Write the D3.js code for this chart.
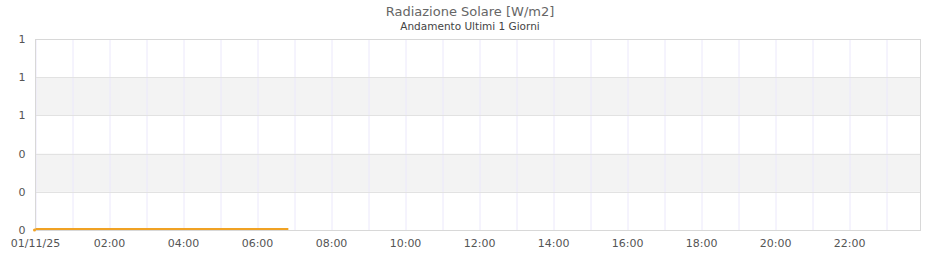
<!DOCTYPE html>
<html>
<head>
<meta charset="utf-8">
<script src="https://cdn.jsdelivr.net/npm/d3@7"></script>
<style>
  body { margin: 0; background: #fff; font-family: "DejaVu Sans", sans-serif; }
</style>
</head>
<body>
<div id="chart"></div>
<script>
// data
const title = "Radiazione Solare [W/m2]";
const subtitle = "Andamento Ultimi 1 Giorni";
const day = "2025-11-01";
const domainEnd = "23:55";
const times = ["00:00", "00:30", "01:00", "01:30", "02:00", "02:30", "03:00", "03:30",
  "04:00", "04:30", "05:00", "05:30", "06:00", "06:30", "06:50"];
const values = [0, 0, 0, 0, 0, 0, 0, 0, 0, 0, 0, 0, 0, 0, 0];
const yTicks = [0, 0.2, 0.4, 0.6, 0.8, 1];

const parse = d3.timeParse("%Y-%m-%d %H:%M");
const data = times.map((t, i) => ({ x: parse(day + " " + t), y: values[i] }));

var margin = { top: 39, right: 20, bottom: 30, left: 35.5 };

const svg = d3.select("#chart").append("svg")
  .attr("width", 940).attr("height", 260);

svg.append("text").attr("x", 470).attr("y", 15.5).attr("text-anchor", "middle")
  .attr("font-size", 13).attr("fill", "#666").text(title);
svg.append("text").attr("x", 470).attr("y", 30).attr("text-anchor", "middle")
  .attr("font-size", 10.5).attr("fill", "#444").text(subtitle);

const g = svg.append("g").attr("transform", "translate(" + margin.left + "," + margin.top + ")");

var x = d3.scaleTime()
  .domain([parse(day + " 00:00"), parse(day + " " + domainEnd)])
  .range([0, 885]);
var y = d3.scaleLinear().domain([0, 1]).range([191, 0]);

// alternating bands
for (let i = 0; i < yTicks.length - 1; i++) {
  if (i % 2 === 1) {
    g.append("rect")
      .attr("x", 0).attr("width", x.range()[1])
      .attr("y", y(yTicks[i + 1])).attr("height", y(yTicks[i]) - y(yTicks[i + 1]))
      .attr("fill", "#f3f3f3");
  }
}

// hourly vertical grid
g.selectAll(".vgrid").data(x.ticks(d3.timeHour.every(1)))
  .enter().append("line")
  .attr("x1", d => Math.round(x(d)) + 0.5).attr("x2", d => Math.round(x(d)) + 0.5)
  .attr("y1", 0).attr("y2", y(0))
  .attr("stroke", "#ebe8fb").attr("stroke-width", 1);

// horizontal grid
g.selectAll(".hgrid").data(yTicks)
  .enter().append("line")
  .attr("x1", 0).attr("x2", x.range()[1])
  .attr("y1", d => Math.round(y(d)) + 0.5).attr("y2", d => Math.round(y(d)) + 0.5)
  .attr("stroke", "#e2e2e2");

// frame
g.append("rect").attr("x", 0).attr("y", 0.5)
  .attr("width", x.range()[1]).attr("height", y(0))
  .attr("fill", "none").attr("stroke", "#d8d8d8");

// y labels
g.selectAll(".ylab").data(yTicks)
  .enter().append("text")
  .attr("x", -10).attr("y", d => y(d) + 4)
  .attr("text-anchor", "end").attr("font-size", 11).attr("fill", "#555")
  .text(d => d3.format(".0f")(d));

// x labels
const fmtX = d => d.getHours() === 0 ? d3.timeFormat("%d/%m/%y")(d) : d3.timeFormat("%H:%M")(d);
g.selectAll(".xlab").data(x.ticks(d3.timeHour.every(2)))
  .enter().append("text")
  .attr("x", d => x(d)).attr("y", y(0) + 17)
  .attr("text-anchor", "middle").attr("font-size", 11).attr("fill", "#555")
  .text(fmtX);

// series
g.append("path")
  .datum(data)
  .attr("fill", "none")
  .attr("stroke", "#f0a224")
  .attr("stroke-width", 2)
  .attr("d", d3.line()
    .x(function (d) { return x(d.x) })
    .y(function (d) { return y(d.y) - 1 }));
g.append("circle").attr("cx", x(data[0].x) - 1).attr("cy", y(0))
  .attr("r", 1.5).attr("fill", "#f0a224");
</script>
</body>
</html>
